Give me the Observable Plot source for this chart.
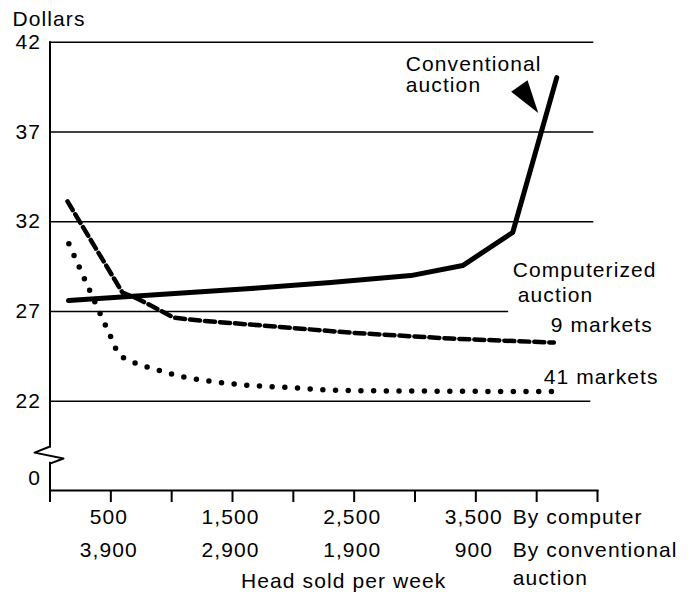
<!DOCTYPE html>
<html><head><meta charset="utf-8">
<script src="https://cdn.jsdelivr.net/npm/d3@7"></script>
<script src="https://cdn.jsdelivr.net/npm/@observablehq/plot@0.6"></script>
<style>body{margin:0;background:#fff}</style>
</head><body><div id="chart"></div>
<script>
// ---- data (x: head sold per week by computer; y: dollars) ----
const yTicks = [0, 22, 27, 32, 37, 42];
const gridY = [22, 27, 32, 37, 42];
const gridEnd = [4445, 3770, 4470, 4470, 4470];
const xTicks = [0, 500, 1000, 1500, 2000, 2500, 3000, 3500, 4000, 4500];
const computerLabelX = [500, 1500, 2500, 3500];
const computerLabels = ["500", "1,500", "2,500", "3,500"];
const conventionalLabels = ["3,900", "2,900", "1,900", "900"];

const conventionalX = [152, 1649, 2307, 2965, 3392, 3803, 4165];
const conventionalY = [27.61, 28.28, 28.61, 29.0, 29.56, 31.4, 40.03];

const nineMarketsX = [144, 596, 720, 909, 1016, 1238, 1649, 2471, 3293, 4141];
const nineMarketsY = [33.13, 28.05, 27.71, 27.05, 26.66, 26.49, 26.27, 25.82, 25.49, 25.27];

const fortyOneX = [155, 333, 516, 561, 656, 868, 1073, 1279, 1498, 1978, 2414, 4132];
const fortyOneY = [30.77, 28.07, 25.34, 24.67, 24.27, 23.78, 23.39, 23.15, 22.97, 22.76, 22.60, 22.54];

// broken axis: values below 22 are compressed (0 sits at 17.69 on the drawn axis)
const breakX = [0, -127, 111, 0];
const breakY = [19.48, 19.14, 18.81, 18.53];

const labelText = ["Conventional\nauction", "Computerized", "auction", "9 markets", "41 markets"];
const labelX = [2924, 3803, 3845, 4116, 4058];
const labelY = [40.18, 29.28, 27.89, 26.22, 23.32];

const axisPos = v => v >= 22 ? v : 17.69 + v * (22 - 17.69) / 22;
const pts = (xs, ys) => xs.map((x, i) => ({x, y: ys[i]}));

const arrowSymbol = {
  draw(context) {
    context.moveTo(0, -20);
    context.lineTo(10, 13);
    context.lineTo(-10, 13);
    context.closePath();
  }
};

const below = (texts, x, dy, opts = {}) =>
  Plot.text(texts, {x, text: d => d, frameAnchor: "bottom", lineAnchor: "middle", dy, ...opts});

const chart = Plot.plot({
  width: 694, height: 592,
  marginLeft: 49.5, marginRight: 97, marginTop: 41.7, marginBottom: 102,
  style: {fontFamily: "'Liberation Sans', Arial, sans-serif", fontSize: "21px", letterSpacing: "1.1px", background: "white", color: "black"},
  x: {domain: [0, 4500], label: null},
  y: {domain: [17.03, 42], label: null},
  marks: [
    Plot.ruleY(gridY, {y: d => d, x1: 0, x2: (d, i) => gridEnd[i], strokeWidth: 1.6}),
    Plot.frame({anchor: "left", strokeWidth: 2}),
    Plot.frame({anchor: "bottom", strokeWidth: 2}),
    Plot.ruleX([0], {x: d => d, y1: 18.6, y2: 19.4, stroke: "white", strokeWidth: 8}),
    Plot.line(pts(breakX, breakY), {x: "x", y: "y", strokeWidth: 2}),
    Plot.axisX({ticks: xTicks, tickSize: 12, tickFormat: () => "", strokeWidth: 2, label: null}),
    Plot.axisY({ticks: yTicks.map(axisPos), tickFormat: (d, i) => String(yTicks[i]), tickSize: 0, tickPadding: 9, label: null}),
    Plot.line(pts(conventionalX, conventionalY), {x: "x", y: "y", strokeWidth: 5, strokeLinejoin: "round"}),
    Plot.line(pts(nineMarketsX, nineMarketsY), {x: "x", y: "y", strokeWidth: 4.5, strokeDasharray: "10 5"}),
    Plot.line(pts(fortyOneX, fortyOneY), {x: "x", y: "y", curve: "monotone-x", strokeWidth: 5.5, strokeLinecap: "round", strokeDasharray: "0 12.7"}),
    Plot.dot([{x: 3919, y: 38.97}], {x: "x", y: "y", symbol: arrowSymbol, fill: "black", stroke: "none", rotate: 145}),
    Plot.text(labelText, {x: (d, i) => labelX[i], y: (d, i) => labelY[i], text: d => d, textAnchor: "start", lineHeight: 1}),
    below(computerLabels, (d, i) => computerLabelX[i], 27, {dx: -2}),
    below(conventionalLabels, (d, i) => computerLabelX[i], 60, {dx: -2}),
    below(["By computer"], 3803, 27, {textAnchor: "start"}),
    below(["By conventional"], 3803, 60, {textAnchor: "start"}),
    below(["auction"], 3803, 88, {textAnchor: "start"}),
    below(["Head sold per week"], 2414, 91),
    Plot.text(["Dollars"], {frameAnchor: "top-left", lineAnchor: "middle", dx: -37.5, dy: -23, textAnchor: "start", text: d => d})
  ]
});
document.getElementById("chart").append(chart);
</script>
</body></html>
